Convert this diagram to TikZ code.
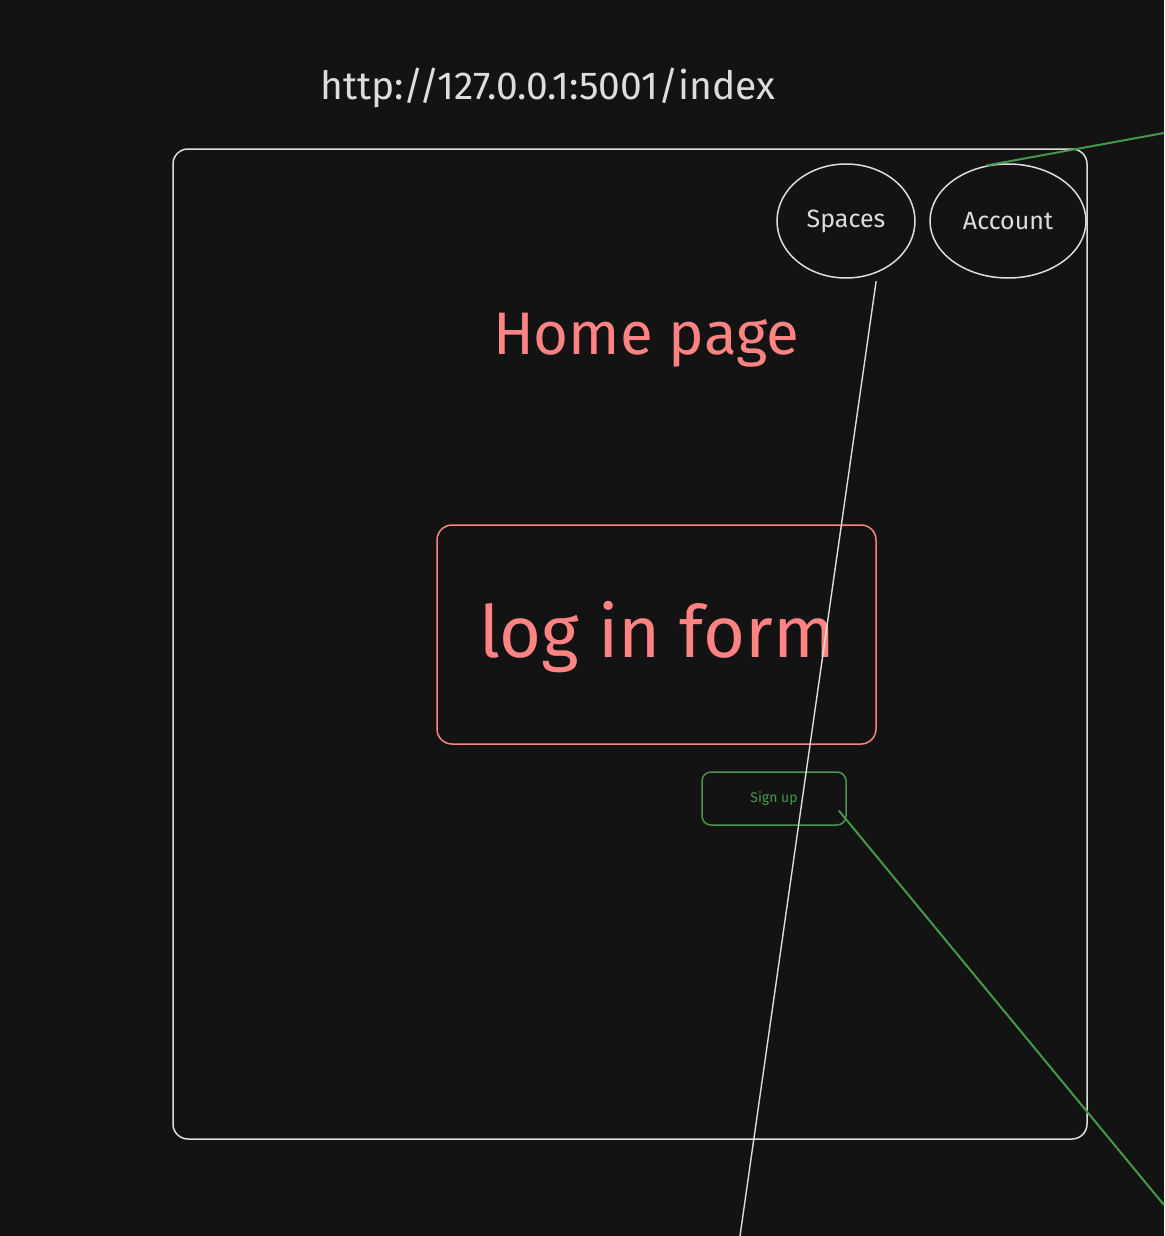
\documentclass[tikz,border=0pt]{standalone}
\usepackage{fontspec}
\setmainfont{Fira Sans}
\usetikzlibrary{shapes.geometric}
\definecolor{bg}{HTML}{131313}
\definecolor{ink}{HTML}{DDDDDD}
\definecolor{salmon}{HTML}{FF8383}
\definecolor{grn}{HTML}{45984A}
\tikzset{
  frame/.style={draw=ink, line width=1.5pt, rounded corners=15pt},
  bubble/.style={draw=ink, line width=1.5pt, ellipse, inner sep=0pt, text=ink, font=\fontsize{25}{27}\selectfont},
  formbox/.style={draw=salmon, line width=1.5pt, rounded corners=15pt},
  btn/.style={draw=grn, line width=1.5pt, rounded corners=9pt, text=grn, font=\fontsize{14}{16}\selectfont},
  wire/.style={draw=ink, line width=1.4pt},
  gwire/.style={draw=grn, line width=2pt},
}
\begin{document}
\begin{tikzpicture}[x=1pt,y=-1pt]
\useasboundingbox[fill=bg] (0,0) rectangle (1164,1236);
% url
\node[text=ink, font=\fontsize{39}{41}\selectfont, anchor=base] (url) at (548,100) {http://127.0.0.1:5001/index};
% page frame
\draw[frame] (173,149) rectangle (1087,1139);
% nav bubbles
\node[bubble, minimum width=138pt, minimum height=114pt] (spaces) at (846,221) {Spaces};
\node[bubble, minimum width=156pt, minimum height=114pt] (account) at (1008,221) {Account};
% title
\node[text=salmon, font=\fontsize{60}{62}\selectfont, anchor=base] (home) at (646,354) {Home page};
% login form
\node[formbox, minimum width=439pt, minimum height=219pt] (login) at (656.5,634.5) {};
\node[text=salmon, font=\fontsize{72}{74}\selectfont, anchor=base] (logintext) at (657,657) {log in form};
% sign up button
\node[btn, minimum width=144pt, minimum height=53pt] (signup) at (774,798.5) {Sign up};
% connectors
\coordinate (offbottom) at (740,1236);
\coordinate (offright) at (1164,1205);
\coordinate (offtop) at (1164,133);
\draw[wire] ([shift={(3,7)}]spaces.-63) -- (offbottom);
\draw[gwire] ([shift={(-8,12)}]signup.east) -- (offright);
\draw[gwire] (account.111) -- (offtop);
\end{tikzpicture}
\end{document}
